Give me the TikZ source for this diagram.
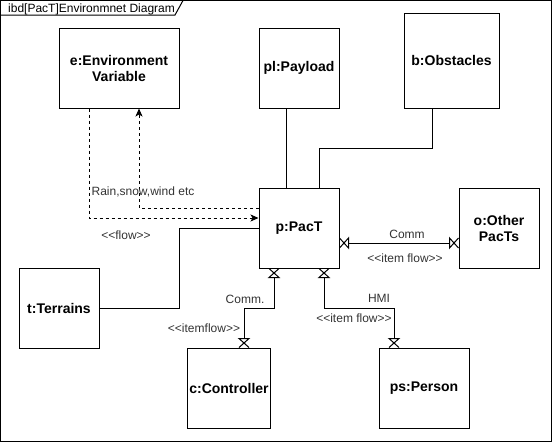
\documentclass[tikz,border=0pt]{standalone}
\usepackage{fontspec}
\setmainfont{Liberation Sans}
\usetikzlibrary{arrows.meta,calc}
\definecolor{lbl}{HTML}{333333}
\newcommand\myLL{<\kern0pt<}
\newcommand\myGG{>\kern0pt>}
\pgfdeclarearrow{
  name=Bowtie,
  setup code={
    \pgfarrowssettipend{0pt}
    \pgfarrowssetlineend{-9pt}
    \pgfarrowssetbackend{-9pt}
    \pgfarrowshullpoint{0pt}{5pt}
    \pgfarrowshullpoint{-9pt}{5pt}
    \pgfarrowshullpoint{0pt}{-5pt}
    \pgfarrowshullpoint{-9pt}{-5pt}
  },
  drawing code={
    \pgfsetdash{}{0pt}
    \pgfsetlinewidth{1pt}
    \pgfpathmoveto{\pgfqpoint{0pt}{5pt}}
    \pgfpathlineto{\pgfqpoint{-9pt}{-5pt}}
    \pgfpathlineto{\pgfqpoint{-9pt}{5pt}}
    \pgfpathlineto{\pgfqpoint{0pt}{-5pt}}
    \pgfusepathqstroke
  }
}
\tikzset{
  block/.style={draw, line width=1pt, minimum width=80pt, minimum height=80pt, inner sep=2pt, align=center, font=\bfseries\fontsize{14}{16}\selectfont},
  lab/.style={font=\fontsize{12}{14}\selectfont, text=lbl, anchor=base, inner sep=0pt},
  conn/.style={line width=1pt},
  flow/.style={line width=1pt, dash pattern=on 3pt off 3pt, -{Stealth[length=8pt,width=7pt,inset=2pt]}},
  item/.style={line width=1pt, {Bowtie}-{Bowtie}},
}
\begin{document}
\begin{tikzpicture}[x=1pt,y=-1pt]
\useasboundingbox (0,0) rectangle (553,442);
% frame
\draw[line width=1pt] (0.5,0.5) rectangle (551.5,441);
\draw[line width=1pt] (0.5,15) -- (175,15) -- (183,0.5);
\node[font=\fontsize{12}{14}\selectfont, anchor=base west, inner sep=0pt] (title) at (8,12) {ibd[PacT]Environmnet Diagram};
% blocks
\node[block, minimum width=120pt] (e) at (119,68) {e:Environment\\Variable};
\node[block] (pl) at (299,68) {pl:Payload};
\node[block, minimum width=95pt, minimum height=95pt] (b) at (451.5,60.5) {b:Obstacles};
\node[block] (p) at (299,228) {p:PacT};
\node[block] (o) at (499,228) {o:Other\\PacTs};
\node[block] (t) at (59,308) {t:Terrains};
\node[block] (c) at (229,388) {c:Controller};
\node[block, minimum width=90pt] (ps) at (424,388) {ps:Person};
% connectors
\draw[conn] ([xshift=-13pt]pl.south) -- ([xshift=-13pt]p.north);
\draw[conn] ([xshift=-19.5pt]b.south) -- ++(0,40) -| ([xshift=20pt]p.north);
\draw[conn] (t.east) -- ++(80,0) |- (p.west);
\draw[flow] ([xshift=-30pt]e.south) |- ([yshift=10pt]p.west);
\draw[flow] ([yshift=20pt]p.west) -| ([xshift=20pt]e.south);
\draw[item] ([yshift=-15pt]p.east) -- ([yshift=-15pt]o.west);
\draw[item] ([xshift=-25pt]p.south) -- ++(0,40) -| ([xshift=15pt]c.north);
\draw[item] ([xshift=25pt]p.south) -- ++(0,40) -| ([xshift=-30pt]ps.north);
% labels
\node[lab] (l1) at (143,195.5) {Rain,snow,wind etc};
\node[lab] (l2) at (126,239.5) {\myLL flow\myGG};
\node[lab] (l3) at (407,238.5) {Comm};
\node[lab] (l4) at (405,262.5) {\myLL item flow\myGG};
\node[lab] (l5) at (245,303.5) {Comm.};
\node[lab] (l6) at (204,332.5) {\myLL itemflow\myGG};
\node[lab] (l7) at (379,302.5) {HMI};
\node[lab] (l8) at (354,322.5) {\myLL item flow\myGG};
\end{tikzpicture}
\end{document}
